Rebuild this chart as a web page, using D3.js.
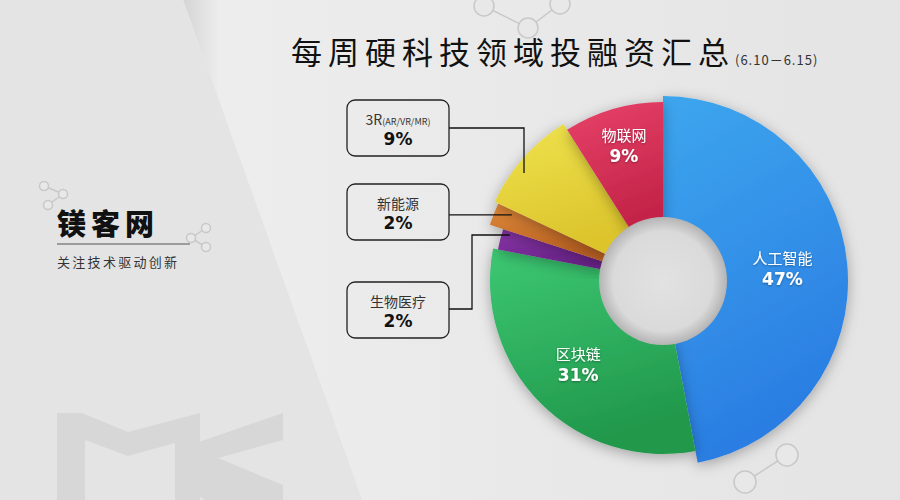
<!DOCTYPE html>
<html>
<head>
<meta charset="utf-8">
<script src="https://cdn.jsdelivr.net/npm/d3@7"></script>
<style>
  body { margin: 0; background: #e4e4e4; }
  svg { display: block; font-family: "Noto Sans CJK SC", "Noto Sans", sans-serif; }
</style>
</head>
<body>
<svg id="chart" width="900" height="500"></svg>
<script>
// data
const categories = ['人工智能', '区块链', '生物医疗', '新能源', '3R', '物联网'];
const shares = [47, 31, 2, 2, 9, 9];
const subNames = ['', '', '', '', '(AR/VR/MR)', ''];
const titleText = '每周硬科技领域投融资汇总';
const dateText = '(6.10－6.15)';

// styles
const colorsTop = ['#3da6ee', '#3dc873', '#8a36aa', '#e08a3a', '#efe34e', '#e8426a'];
const colorsBottom = ['#2a7de2', '#21984c', '#682287', '#b65e20', '#dcc42c', '#c42448'];
const outerR = [185, 173, 168, 182, 186, 179];
const innerR = 58;
const holeR = 64;
const cx = 663, cy = 281;

const svg = d3.select('#chart');
const defs = svg.append('defs');

// background
const bg = defs.append('linearGradient').attr('id', 'bg').attr('x1', 0).attr('y1', 0).attr('x2', 1).attr('y2', 1);
bg.append('stop').attr('offset', 0).attr('stop-color', '#ececec');
bg.append('stop').attr('offset', 1).attr('stop-color', '#dedede');
svg.append('rect').attr('width', 900).attr('height', 500).attr('fill', 'url(#bg)');

const band = defs.append('linearGradient').attr('id', 'band').attr('x1', 0).attr('y1', 0).attr('x2', 1).attr('y2', 0);
band.append('stop').attr('offset', 0).attr('stop-color', '#d4d4d4');
band.append('stop').attr('offset', 0.05).attr('stop-color', '#ededed');
band.append('stop').attr('offset', 1).attr('stop-color', '#e4e4e4');
svg.append('path')
    .attr('d', 'M183,0 L900,0 L900,500 L362,500 Z')
    .attr('fill', 'url(#band)');
svg.append('path')
    .attr('d', 'M0,0 L183,0 L362,500 L0,500 Z')
    .attr('fill', '#e4e4e4');

// MK watermark
const wm = svg.append('g').attr('fill', '#d7d7d7');
wm.append('path').attr('d', 'M57,413 L82,413 L128,432 L200,413 L200,500 L175,500 L175,443 L128,456 L85,440 L85,500 L57,500 Z');
wm.append('path').attr('d', 'M176,450 L283,413 L283,440 L218,458 L283,485 L283,500 L205,500 L176,480 Z');

// molecule icons
function molecule(points, links, r) {
    const g = svg.append('g').attr('fill', 'none').attr('stroke', '#c8c8c8').attr('stroke-width', 1.5);
    links.forEach(l => {
        g.append('line')
            .attr('x1', points[l[0]][0]).attr('y1', points[l[0]][1])
            .attr('x2', points[l[1]][0]).attr('y2', points[l[1]][1]);
    });
    points.forEach(p => {
        g.append('circle').attr('cx', p[0]).attr('cy', p[1]).attr('r', r).attr('fill', '#e8e8e8');
    });
}
molecule([[484, 6], [528, 28], [560, 4]], [[0, 1], [1, 2]], 10);
molecule([[787, 455], [745, 482]], [[0, 1]], 11);
molecule([[44, 186], [63, 194], [48, 205]], [[0, 1], [1, 2]], 4.5);
molecule([[191, 238], [206, 228], [206, 247]], [[0, 1], [0, 2]], 4.5);

// logo
svg.append('text').attr('x', 57).attr('y', 235)
    .attr('font-size', 29).attr('font-weight', 900).attr('fill', '#111')
    .attr('letter-spacing', 5).text('镁客网');
svg.append('line').attr('x1', 57).attr('x2', 190).attr('y1', 244).attr('y2', 244)
    .attr('stroke', '#555').attr('stroke-width', 1);
svg.append('text').attr('x', 57).attr('y', 267)
    .attr('font-size', 13).attr('fill', '#333').attr('letter-spacing', 2.3)
    .text('关注技术驱动创新');

// title
svg.append('text').attr('x', 291).attr('y', 64)
    .attr('font-size', 31).attr('fill', '#111').attr('letter-spacing', 6)
    .text(titleText);
svg.append('text').attr('x', 735).attr('y', 65)
    .attr('font-size', 13).attr('fill', '#333').attr('letter-spacing', 1)
    .text(dateText);

// pie
const pie = d3.pie().sort(null).value(d => d);
const arcs = pie(shares);

const shadow = defs.append('filter').attr('id', 'shadow')
    .attr('x', -0.2).attr('y', -0.2).attr('width', 1.4).attr('height', 1.4);
shadow.append('feDropShadow').attr('dx', 0).attr('dy', 3).attr('stdDeviation', 7)
    .attr('flood-color', '#000').attr('flood-opacity', 0.3);

colorsTop.forEach((c, i) => {
    const g = defs.append('linearGradient').attr('id', 'grad' + i)
        .attr('x1', 0).attr('y1', 0).attr('x2', 0.3).attr('y2', 1);
    g.append('stop').attr('offset', 0).attr('stop-color', c);
    g.append('stop').attr('offset', 1).attr('stop-color', colorsBottom[i]);
});

const pieG = svg.append('g').attr('transform', `translate(${cx},${cy})`);
pieG.selectAll('path.slice')
    .data(arcs)
    .enter()
    .append('path')
    .attr('class', 'slice')
    .attr('filter', 'url(#shadow)')
    .attr('fill', (d, i) => 'url(#grad' + i + ')')
    .attr('d', (d, i) => d3.arc().innerRadius(innerR).outerRadius(outerR[i])(d));

// hole
const hole = defs.append('radialGradient').attr('id', 'hole');
hole.append('stop').attr('offset', 0).attr('stop-color', '#e2e2e2');
hole.append('stop').attr('offset', 0.78).attr('stop-color', '#dadada');
hole.append('stop').attr('offset', 1).attr('stop-color', '#b4b4b4');
pieG.append('circle').attr('r', holeR).attr('fill', 'url(#hole)');

// inner labels (big slices)
const labelR = [120, 120, 0, 0, 0, 140];
const textShadow = defs.append('filter').attr('id', 'tshadow');
textShadow.append('feDropShadow').attr('dx', 0).attr('dy', 1).attr('stdDeviation', 1)
    .attr('flood-color', '#000').attr('flood-opacity', 0.35);

arcs.forEach((d, i) => {
    if (!labelR[i]) return;
    const c = d3.arc().innerRadius(labelR[i]).outerRadius(labelR[i]).centroid(d);
    const t = pieG.append('text')
        .attr('text-anchor', 'middle')
        .attr('fill', '#fff')
        .attr('filter', 'url(#tshadow)');
    t.append('tspan').attr('x', c[0]).attr('y', c[1] - 6)
        .attr('font-size', 15).text(categories[i]);
    t.append('tspan').attr('x', c[0]).attr('y', c[1] + 15)
        .attr('font-size', 17).attr('font-weight', 'bold')
        .attr('font-family', '"DejaVu Sans", sans-serif')
        .text(shares[i] + '%');
});

// callout boxes for the small slices
const callouts = [
    { idx: 4, boxY: 100, t: 0.39, r: 176, route: 'down' },
    { idx: 3, boxY: 184, t: 0.78, r: 165, route: 'flat' },
    { idx: 2, boxY: 282, t: 0.82, r: 160, route: 'up' }
];
const boxX = 347, boxW = 102, boxH = 56;
const calloutG = svg.append('g');

callouts.forEach(co => {
    const d = arcs[co.idx];
    const a = d.startAngle + co.t * (d.endAngle - d.startAngle);
    const px = cx + co.r * Math.sin(a);
    const py = cy - co.r * Math.cos(a);
    const bx = boxX + boxW;
    let pts;
    if (co.route === 'down') {
        const by = co.boxY + 28;
        pts = [[bx, by], [px, by], [px, py]];
    } else if (co.route === 'flat') {
        pts = [[bx, py], [px, py]];
    } else {
        const by = co.boxY + 27;
        pts = [[bx, by], [472, by], [472, py], [px, py]];
    }
    calloutG.append('path')
        .attr('d', d3.line()(pts))
        .attr('fill', 'none').attr('stroke', '#111').attr('stroke-width', 1.3);

    calloutG.append('rect')
        .attr('x', boxX).attr('y', co.boxY).attr('width', boxW).attr('height', boxH)
        .attr('rx', 8).attr('fill', 'none').attr('stroke', '#222').attr('stroke-width', 1.3);

    const label = calloutG.append('text')
        .attr('text-anchor', 'middle')
        .attr('x', boxX + boxW / 2).attr('y', co.boxY + 25)
        .attr('fill', '#333').attr('font-size', 14);
    label.append('tspan').text(categories[co.idx]);
    if (subNames[co.idx]) {
        label.append('tspan').attr('font-size', 9).text(subNames[co.idx]);
    }
    calloutG.append('text')
        .attr('text-anchor', 'middle')
        .attr('x', boxX + boxW / 2).attr('y', co.boxY + 45)
        .attr('fill', '#111').attr('font-size', 17).attr('font-weight', 'bold')
        .attr('font-family', '"DejaVu Sans", sans-serif')
        .text(shares[co.idx] + '%');
});
</script>
</body>
</html>
